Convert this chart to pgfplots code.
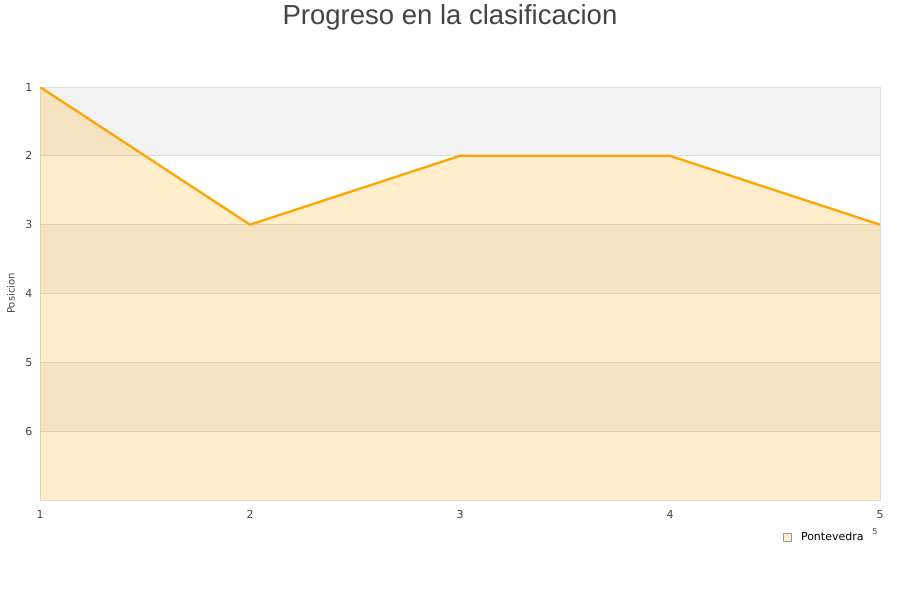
\documentclass[border=0pt]{standalone}
\usepackage{pgfplots}
\pgfplotsset{compat=1.18}
\usepgfplotslibrary{fillbetween}
\usepackage{fontspec}
\setmainfont{DejaVu Sans}
\newfontfamily\titlefont{Liberation Sans}
\definecolor{band}{HTML}{F2F2F2}
\definecolor{gridc}{HTML}{DDDDDD}
\definecolor{serie}{HTML}{FFA500}
\definecolor{txt}{HTML}{444444}
\begin{document}
\begin{tikzpicture}
\begin{axis}[
  set layers,
  at={(40pt,100pt)}, anchor=south west,
  scale only axis, width=840pt, height=413pt,
  xmin=1, xmax=5, ymin=1, ymax=7,
  y dir=reverse,
  xtick={1,2,3,4,5}, ytick={1,2,3,4,5,6},
  ymajorgrids, grid style={gridc, line width=0.8pt},
  axis line style={gridc, line width=0.8pt},
  major tick length=0pt,
  tick label style={font=\fontsize{11}{13}\selectfont, text=txt},
  /pgf/number format/assume math mode=true,
  yticklabel style={xshift=-4pt},
  xticklabel style={yshift=-7pt},
  every axis y label/.style={at={(axis description cs:-0.0345,0.5)}, rotate=90, anchor=center,
    font=\fontsize{10}{12}\selectfont, text=txt},
  ylabel={Posicion},
  legend style={at={(0.884,-0.0896)}, anchor=west, draw=none, fill=none,
    font=\fontsize{11}{13}\selectfont, inner sep=0pt},
  legend image code/.code={\draw[draw=gray!80, fill=serie!20, line width=0.5pt, solid] (0pt,-4pt) rectangle (8pt,4pt);
    \path[draw=none, fill=none] (0pt,0pt) -- (16pt,0pt);},
]
\begin{pgfonlayer}{axis background}
\fill[band] (axis cs:1,1) rectangle (axis cs:5,2);
\fill[band] (axis cs:1,3) rectangle (axis cs:5,4);
\fill[band] (axis cs:1,5) rectangle (axis cs:5,6);
\end{pgfonlayer}
\addplot[name path=pos, serie, line width=2.3pt, line join=round] coordinates {(1,1) (2,3) (3,2) (4,2) (5,3)};
\addlegendentry{Pontevedra}
\path[name path=base] (axis cs:1,7) -- (axis cs:5,7);
\addplot[fill=serie, fill opacity=0.2, draw=none, forget plot] fill between[of=pos and base];
\end{axis}
\node[font=\titlefont\fontsize{27.5}{32}\selectfont, text=txt] at (450pt,583pt) {Progreso en la clasificacion};
\node[font=\fontsize{8}{9}\selectfont, text=txt] at (875pt,68pt) {5};
\path (0pt,0pt) rectangle (900pt,600pt);
\end{tikzpicture}
\end{document}
